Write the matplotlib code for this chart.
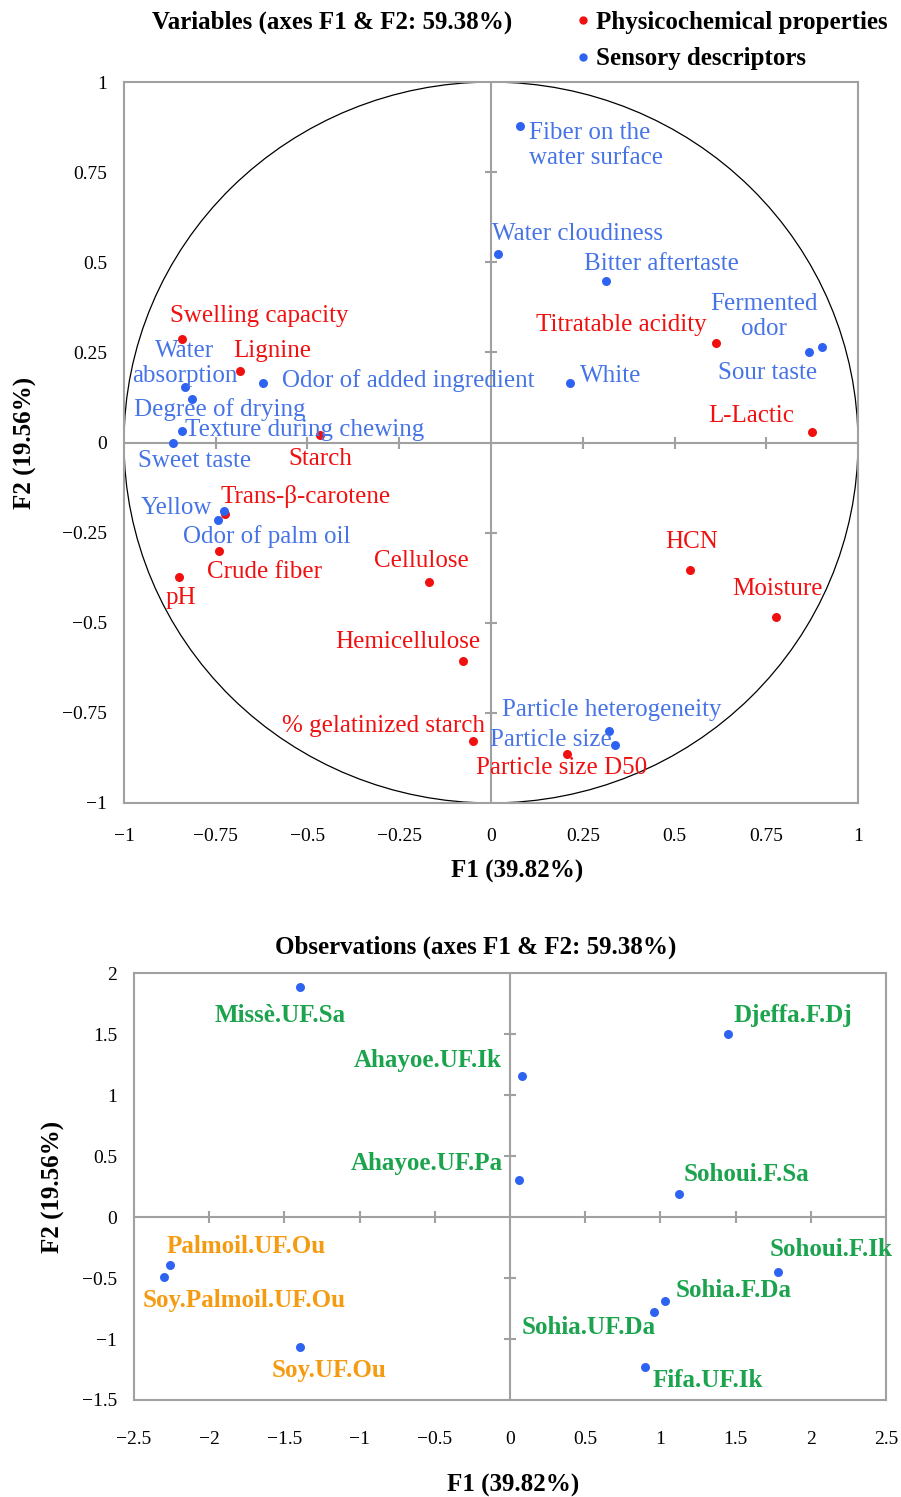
import matplotlib
matplotlib.use("Agg")
import numpy as np
import matplotlib.pyplot as plt
from matplotlib.patches import Circle
from matplotlib.lines import Line2D

plt.rcParams['font.family'] = ['Liberation Serif', 'DejaVu Serif']

# ---- variables (correlation circle) ----
phys_names = ['Swelling capacity', 'Lignine', 'Starch', 'Trans-β-carotene', 'Crude fiber', 'pH',
              'Cellulose', 'Hemicellulose', '% gelatinized starch', 'Particle size D50',
              'HCN', 'Moisture', 'Titratable acidity', 'L-Lactic']
phys_f1 = [-0.842, -0.684, -0.466, -0.725, -0.741, -0.850, -0.169, -0.076, -0.049, 0.207,
           0.542, 0.777, 0.613, 0.875]
phys_f2 = [0.288, 0.197, 0.022, -0.197, -0.302, -0.372, -0.388, -0.605, -0.827, -0.865,
           -0.355, -0.485, 0.277, 0.028]

sens_names = ['Water\nabsorption', 'Degree of drying', 'Odor of added ingredient',
              'Texture during chewing', 'Sweet taste', 'Yellow', 'Odor of palm oil',
              'Fiber on the\nwater surface', 'Water cloudiness', 'Bitter aftertaste', 'White',
              'Fermented\nodor', 'Sour taste', 'Particle heterogeneity', 'Particle size']
sens_f1 = [-0.834, -0.815, -0.621, -0.842, -0.866, -0.728, -0.744, 0.079, 0.019, 0.313,
           0.215, 0.902, 0.866, 0.322, 0.338]
sens_f2 = [0.153, 0.122, 0.164, 0.033, 0.000, -0.191, -0.216, 0.877, 0.524, 0.449,
           0.166, 0.264, 0.252, -0.799, -0.840]

# ---- observations ----
obs_names = ['Missè.UF.Sa', 'Ahayoe.UF.Ik', 'Ahayoe.UF.Pa', 'Djeffa.F.Dj', 'Sohoui.F.Sa',
             'Sohoui.F.Ik', 'Sohia.F.Da', 'Sohia.UF.Da', 'Fifa.UF.Ik',
             'Palmoil.UF.Ou', 'Soy.Palmoil.UF.Ou', 'Soy.UF.Ou']
obs_f1 = [-1.396, 0.080, 0.060, 1.449, 1.124, 1.782, 1.031, 0.957, 0.898, -2.261, -2.301, -1.396]
obs_f2 = [1.885, 1.156, 0.303, 1.500, 0.189, -0.451, -0.689, -0.779, -1.230, -0.393, -0.492, -1.066]
obs_group = ['g', 'g', 'g', 'g', 'g', 'g', 'g', 'g', 'g', 'o', 'o', 'o']

# label placement (pixel offsets, alignment)
phys_lab = [(-12, 23, 'left'), (-7, 20, 'left'), (-32, -24, 'left'), (-4, 17, 'left'),
            (-12, -21, 'left'), (-13, -21, 'left'), (-55, 21, 'left'), (17, 19, 'right'),
            (12, 15, 'right'), (-91, -14, 'left'), (-25, 28, 'left'), (-44, 28, 'left'),
            (-9, 18, 'right'), (-104, 16, 'left')]
sens_lab = [(0, 24, 'center'), (-58, -11, 'left'), (19, 3, 'left'), (3, 1, 'left'),
            (-35, -18, 'left'), (-12, 3, 'right'), (-35, -16, 'left'), (9, -19, 'left'),
            (-6, 20, 'left'), (-22, 17, 'left'), (10, 7, 'left'), (-58, 31, 'center'),
            (-91, -21, 'left'), (-107, 21, 'left'), (-125, 5, 'left')]
obs_lab = [(-85, -28, 'left'), (-20, 16, 'right'), (-16, 17, 'right'), (6, 19, 'left'),
           (5, 19, 'left'), (-8, 23, 'left'), (11, 11, 'left'), (2, -15, 'right'),
           (7, -13, 'left'), (-3, 18, 'left'), (-21, -23, 'left'), (-28, -23, 'left')]

RED = '#F01010'
BLUE_DOT = '#2E62F0'
BLUE_TXT = '#4674E6'
GREEN = '#1BA34E'
ORANGE = '#F59B12'
GRAY = '#A0A0A0'


def fmt(v):
    s = '%g' % v
    return s.replace('-', '\u2212')


def style_axes(ax, xt, yt, xlim, ylim, xpad):
    ax.set_xlim(xlim)
    ax.set_ylim(ylim)
    ax.set_xticks(xt)
    ax.set_xticklabels([fmt(v) for v in xt])
    ax.set_yticks(yt)
    ax.set_yticklabels([fmt(v) for v in yt])
    ax.tick_params(axis='y', length=0, labelsize=14, pad=12)
    ax.tick_params(axis='x', length=0, labelsize=14, pad=xpad)
    for s in ax.spines.values():
        s.set_color(GRAY)
        s.set_linewidth(1.5)
    ax.axhline(0, color=GRAY, lw=1.5, zorder=1)
    ax.axvline(0, color=GRAY, lw=1.5, zorder=1)
    inner_x = [v for v in xt if v != 0 and xlim[0] < v < xlim[1]]
    inner_y = [v for v in yt if v != 0 and ylim[0] < v < ylim[1]]
    ax.plot(inner_x, [0] * len(inner_x), ls='none', marker='|', ms=9, mew=1.5, color=GRAY, zorder=1)
    ax.plot([0] * len(inner_y), inner_y, ls='none', marker='_', ms=9, mew=1.5, color=GRAY, zorder=1)


def put_labels(ax, xs, ys, names, offs, color, size, weight):
    for x, y, n, (dx, dy, ha) in zip(xs, ys, names, offs):
        ax.annotate(n, (x, y), xytext=(dx, dy), textcoords='offset pixels',
                    ha=ha, va='center', color=color, fontsize=size, fontweight=weight,
                    multialignment=ha, linespacing=1.2, zorder=4)


fig = plt.figure(figsize=(9.01, 14.97), dpi=100)

# top: variables
ax1 = fig.add_axes([0.1376, 0.4636, 0.8147, 0.4816])
ticks1 = [-1, -0.75, -0.5, -0.25, 0, 0.25, 0.5, 0.75, 1]
style_axes(ax1, ticks1, ticks1, (-1, 1), (-1, 1), 18)
ax1.add_patch(Circle((0, 0), 1, fill=False, ec='black', lw=0.9, zorder=2))
ax1.scatter(phys_f1, phys_f2, s=42, color=RED, zorder=3, linewidths=0)
ax1.scatter(sens_f1, sens_f2, s=42, color=BLUE_DOT, zorder=3, linewidths=0)
put_labels(ax1, phys_f1, phys_f2, phys_names, phys_lab, RED, 18, 'normal')
put_labels(ax1, sens_f1, sens_f2, sens_names, sens_lab, BLUE_TXT, 18, 'normal')
ax1.set_xlabel('F1 (39.82%)', fontsize=18, fontweight='bold')
ax1.xaxis.set_label_coords(0.535, -0.079)
ax1.set_ylabel('F2 (19.56%)', fontsize=18, fontweight='bold')
ax1.yaxis.set_label_coords(-0.119, 0.5)
fig.text(0.369, 0.985, 'Variables (axes F1 & F2: 59.38%)', ha='center', va='center',
         fontsize=18, fontweight='bold')
handles = [Line2D([], [], ls='none', marker='o', ms=5, color=RED),
           Line2D([], [], ls='none', marker='o', ms=5, color=BLUE_DOT)]
fig.legend(handles, ['Physicochemical properties', 'Sensory descriptors'],
           loc='upper left', bbox_to_anchor=(0.624, 0.9995), frameon=False,
           prop={'size': 18, 'weight': 'bold'}, handletextpad=0.05, handlelength=0.9,
           labelspacing=0.55, borderaxespad=0)

# bottom: observations
ax2 = fig.add_axes([0.1487, 0.0648, 0.8347, 0.2852])
xt2 = [-2.5, -2, -1.5, -1, -0.5, 0, 0.5, 1, 1.5, 2, 2.5]
yt2 = [-1.5, -1, -0.5, 0, 0.5, 1, 1.5, 2]
style_axes(ax2, xt2, yt2, (-2.5, 2.5), (-1.5, 2), 22)
ax2.scatter(obs_f1, obs_f2, s=42, color=BLUE_DOT, zorder=3, linewidths=0)
grp_col = {'g': GREEN, 'o': ORANGE}
for g in ['g', 'o']:
    idx = [i for i, k in enumerate(obs_group) if k == g]
    put_labels(ax2, [obs_f1[i] for i in idx], [obs_f2[i] for i in idx],
               [obs_names[i] for i in idx], [obs_lab[i] for i in idx], grp_col[g], 18, 'bold')
ax2.set_xlabel('F1 (39.82%)', fontsize=18, fontweight='bold')
ax2.xaxis.set_label_coords(0.504, -0.173)
ax2.set_ylabel('F2 (19.56%)', fontsize=18, fontweight='bold')
ax2.yaxis.set_label_coords(-0.092, 0.5)
fig.text(0.528, 0.3674, 'Observations (axes F1 & F2: 59.38%)', ha='center', va='center',
         fontsize=18, fontweight='bold')

fig.savefig('out.png', dpi=100)
